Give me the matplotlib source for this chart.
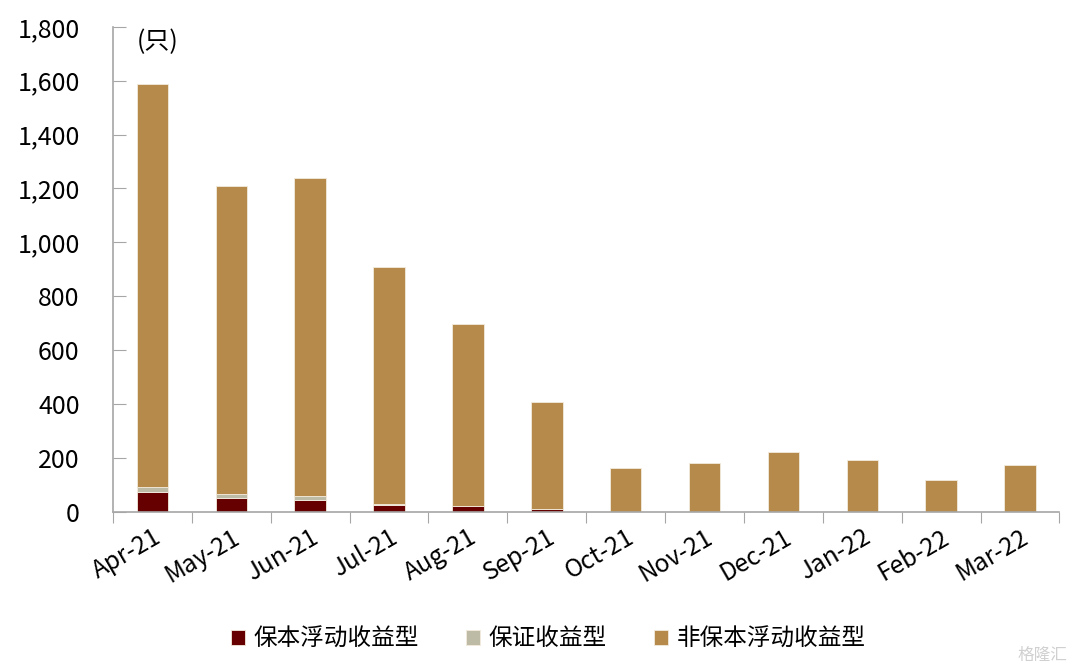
import matplotlib.pyplot as plt
import numpy as np

plt.rcParams['font.family'] = ['Noto Sans CJK SC', 'DejaVu Sans']

months = ["Apr-21", "May-21", "Jun-21", "Jul-21", "Aug-21", "Sep-21",
          "Oct-21", "Nov-21", "Dec-21", "Jan-22", "Feb-22", "Mar-22"]
# counts
principal_float = [72, 52, 43, 27, 20, 11, 0, 0, 0, 0, 0, 0]
guaranteed = [20, 14, 15, 4, 1, 1, 0, 0, 0, 0, 0, 0]
totals = [1588, 1209, 1240, 909, 699, 409, 163, 181, 223, 192, 118, 174]
non_principal = [t - a - b for t, a, b in zip(totals, principal_float, guaranteed)]

series_names = ["保本浮动收益型", "保证收益型", "非保本浮动收益型"]
colors = ["#660000", "#BDBBA6", "#B68A4B"]

fig = plt.figure(figsize=(10.8, 6.7), dpi=100)
ax = fig.add_axes([0.1046, 0.236, 0.8764, 0.724])

x = np.arange(len(months))
w = 0.4
bottom = np.zeros(len(months))
for vals, name, c in zip([principal_float, guaranteed, non_principal], series_names, colors):
    ax.bar(x, vals, w, bottom=bottom, color=c, label=name,
           edgecolor="#F3EBDD", linewidth=0.6)
    bottom += np.array(vals)

ax.set_xlim(-0.5, len(months) - 0.5)
ax.set_ylim(0, 1800)
ax.set_yticks(np.arange(0, 1801, 200))
ax.set_yticklabels([f"{v:,}" for v in range(0, 1801, 200)], fontsize=18)
ax.tick_params(axis='y', direction='in', length=9, color='#A6A6A6', pad=24)

# x ticks sit on category boundaries, labels at category centres
ax.set_xticks(np.arange(-0.5, len(months)), minor=False)
ax.set_xticklabels([])
ax.tick_params(axis='x', direction='out', length=8, color='#A6A6A6')
ax.set_xticks(x, minor=True)
ax.set_xticklabels(months, minor=True, rotation=30, ha='right',
                   rotation_mode='anchor', fontsize=17.5)
ax.tick_params(axis='x', which='minor', length=0, pad=9)

for s in ['top', 'right']:
    ax.spines[s].set_visible(False)
ax.spines['left'].set_color('#A6A6A6')
ax.spines['bottom'].set_color('#A6A6A6')
ax.spines['left'].set_linewidth(1.2)
ax.spines['bottom'].set_linewidth(1.2)

ax.text(0.07, 1745, "(只)", fontsize=18, va='center', ha='center')

ax.legend(loc='center', bbox_to_anchor=(0.5 - 0.04, -0.262), ncol=3,
          frameon=False, fontsize=17, handlelength=0.6, handleheight=0.6,
          handletextpad=0.35, columnspacing=2.0)

fig.text(0.965, 0.022, "格隆汇", fontsize=12, color='#D0D0D0', ha='center', va='center')

fig.savefig("out.png", dpi=100)
